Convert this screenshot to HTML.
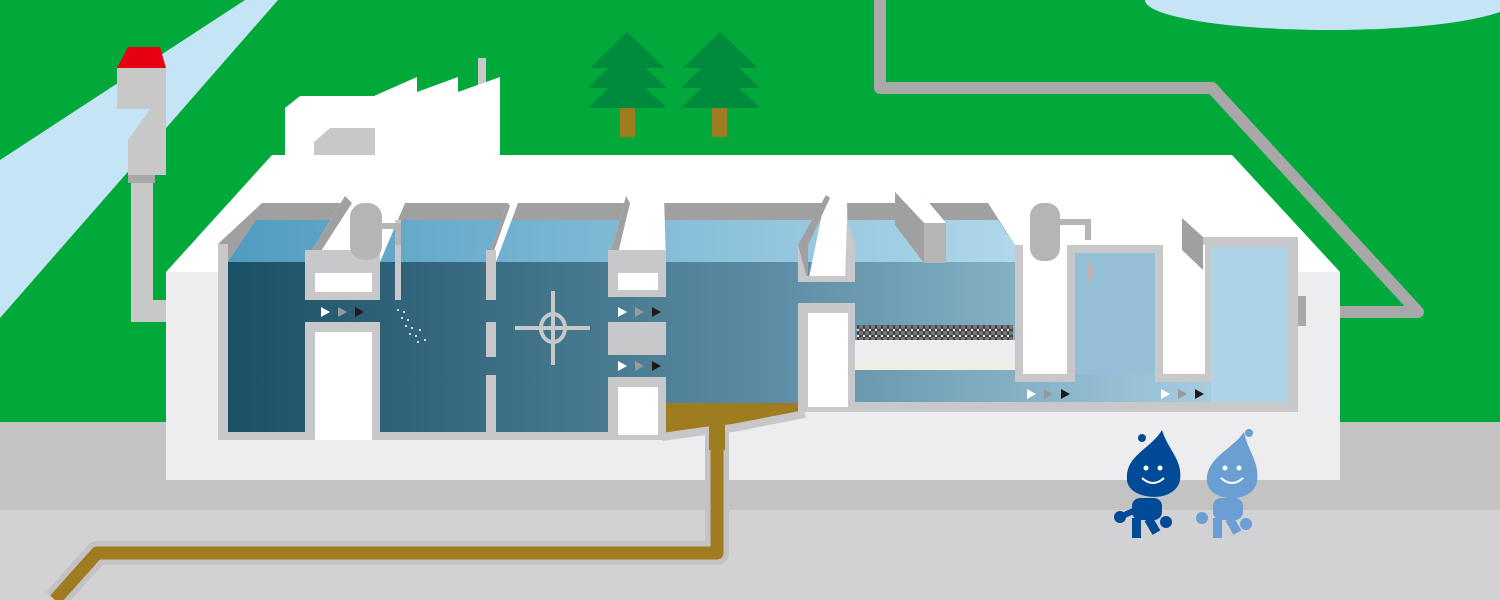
<!DOCTYPE html>
<html><head><meta charset="utf-8"><style>html,body{margin:0;padding:0;width:1500px;height:600px;overflow:hidden}</style></head><body>
<svg width="1500" height="600" viewBox="0 0 1500 600" xmlns="http://www.w3.org/2000/svg">
<defs>
<linearGradient id="wm" x1="228" x2="1288" y1="0" y2="0" gradientUnits="userSpaceOnUse">
<stop offset="0" stop-color="#1c5066"/><stop offset="0.5" stop-color="#5a8ba2"/><stop offset="1" stop-color="#b0d7ea"/></linearGradient>
<linearGradient id="ws" x1="228" x2="1015" y1="0" y2="0" gradientUnits="userSpaceOnUse">
<stop offset="0" stop-color="#4f9cc0"/><stop offset="1" stop-color="#b0d7ea"/></linearGradient>
<pattern id="balls" width="6" height="6" patternUnits="userSpaceOnUse"><rect width="6" height="6" fill="#fff"/><circle cx="3" cy="3" r="2.8" fill="#777" stroke="#222" stroke-width="0.8"/></pattern>
</defs>
<rect width="1500" height="600" fill="#00a93a"/>
<rect y="422" width="1500" height="88" fill="#c3c3c3"/>
<rect y="510" width="1500" height="90" fill="#d2d2d4"/>
<polygon points="0,160 245,0 278,0 0,318" fill="#c5e5f7"/>
<ellipse cx="1330" cy="0" rx="185" ry="30" fill="#c5e5f7"/>
<polyline points="880,0 880,88 1212,88 1418,312 1300,312" fill="none" stroke="#a8a8a8" stroke-width="12" stroke-linejoin="round"/>
<polygon points="117,68 128,47 160,47 166,68" fill="#e60012"/>
<rect x="117" y="68" width="49" height="41" fill="#c8c8c8"/>
<polygon points="128,140 150,109 166,109 166,175 128,175" fill="#c8c8c8"/>
<rect x="128" y="175" width="27" height="8" fill="#a8a8a8"/>
<polyline points="142,183 142,311 215,311" fill="none" stroke="#c8c8c8" stroke-width="22"/>
<rect x="208" y="296" width="12" height="30" fill="#a0a0a0"/>
<g fill="#008a3e"><polygon points="627,32 590,68 665,68"/><polygon points="627,50 588,88 667,88"/><polygon points="627,70 588,108 667,108"/>
<polygon points="720,32 683,68 758,68"/><polygon points="720,50 681,88 760,88"/><polygon points="720,70 681,108 760,108"/></g>
<rect x="620" y="108" width="15" height="29" fill="#a07c20"/><rect x="712" y="108" width="15" height="29" fill="#a07c20"/>
<rect x="478" y="58" width="8" height="34" fill="#c8c8c8"/>
<polygon points="285,108 300,96 375,96 375,165 285,165" fill="#fff"/>
<polygon points="374,96 417,77 417,92 458,77 458,92 500,77 500,165 374,165" fill="#fff"/>
<polygon points="314,142 330,128 375,128 375,170 314,170" fill="#c8c8ca"/>
<polygon points="166,272 272,155 1232,155 1340,272" fill="#fff"/>
<rect x="166" y="272" width="1174" height="208" fill="#ededef"/>
<rect x="1296" y="296" width="10" height="30" fill="#a8a8a8"/>
<polyline points="717,420 717,553 97,553 55,600" fill="none" stroke="#c3c3c3" stroke-width="24" stroke-linejoin="round"/>
<polyline points="717,420 717,553 97,553 55,600" fill="none" stroke="#a07c20" stroke-width="13" stroke-linejoin="round"/>
<polygon points="218,244 262,203 988,203 1015,245 1015,262 218,262" fill="#a0a0a0"/>
<polygon points="228,262 256,220 998,220 1015,245 1015,262" fill="url(#ws)"/>
<rect x="228" y="262" width="440" height="170" fill="url(#wm)"/>
<rect x="666" y="262" width="134" height="142" fill="url(#wm)"/>
<rect x="798" y="262" width="490" height="140" fill="url(#wm)"/>
<polygon points="666,403 800,403 800,412 733,424 733,430 666,436" fill="#a07c20"/>
<polygon points="305,262 380,262 408,196 345,196" fill="#fff"/>
<polygon points="305,262 314,262 352,203 345,196" fill="#a0a0a0"/>
<polygon points="486,262 496,262 518,203 508,203" fill="#fff"/>
<polygon points="486,262 490,262 510,206 508,203" fill="#a0a0a0"/>
<polygon points="608,262 666,262 664,196 626,196" fill="#fff"/>
<polygon points="608,262 616,262 630,203 626,196" fill="#a0a0a0"/>
<polygon points="808,282 848,282 847,195 826,195" fill="#fff"/>
<polygon points="798,245 808,245 808,282 798,282" fill="#c8c8ca"/>
<polygon points="808,282 808,245 830,198 826,195 798,245" fill="#a0a0a0"/>
<polygon points="845,282 855,282 855,245 847,218" fill="#c8c8ca"/>
<rect x="798" y="276" width="57" height="6" fill="#c8c8ca"/>
<g fill="#c8c8ca">
<rect x="218" y="244" width="10" height="196"/>
<rect x="218" y="432" width="95" height="8"/>
<rect x="305" y="250" width="75" height="50"/>
<rect x="305" y="322" width="75" height="118"/>
<rect x="372" y="432" width="246" height="8"/>
<rect x="395" y="220" width="6" height="80"/>
<rect x="486" y="250" width="10" height="50"/><rect x="486" y="322" width="10" height="35"/><rect x="486" y="375" width="10" height="57"/>
<rect x="608" y="250" width="58" height="47"/>
<rect x="608" y="322" width="58" height="33"/>
<rect x="608" y="377" width="58" height="63"/>
<rect x="798" y="303" width="57" height="109"/>
<rect x="848" y="402" width="450" height="10"/>
<rect x="1015" y="245" width="60" height="137"/>
<rect x="1155" y="245" width="57" height="137"/>
<rect x="1203" y="237" width="95" height="10"/>
<rect x="1288" y="237" width="10" height="175"/>
</g>
<polyline points="662,437 705,431 733,428 805,414" fill="none" stroke="#c8c8ca" stroke-width="8"/>
<rect x="709" y="418" width="16" height="32" fill="#a07c20"/>
<g fill="#fff">
<rect x="315" y="273" width="57" height="19"/>
<rect x="315" y="332" width="57" height="108"/>
<rect x="618" y="273" width="40" height="17"/>
<rect x="618" y="387" width="40" height="48"/>
<rect x="808" y="313" width="40" height="94"/>
<rect x="1023" y="245" width="44" height="129"/>
<rect x="1163" y="245" width="42" height="129"/>
</g>
<rect x="1075" y="253" width="80" height="121" fill="#95bfd6"/>
<rect x="1211" y="247" width="77" height="155" fill="#acd3e7"/>
<rect x="1075" y="245" width="80" height="8" fill="#c8c8ca"/>
<rect x="1087" y="262" width="7" height="20" fill="#b5b5b5"/>
<rect x="855" y="340" width="160" height="22" fill="#ededef"/>
<rect x="855" y="362" width="160" height="8" fill="#efeee3"/>
<rect x="857" y="325" width="156" height="15" fill="url(#balls)"/>
<rect x="350" y="203" width="32" height="57" rx="14" fill="#b5b5b5"/>
<polyline points="372,226 398,226 398,245" fill="none" stroke="#b5b5b5" stroke-width="6"/>
<polygon points="895,192 920,192 946,223 946,263 924,263 924,223" fill="#b5b5b5"/>
<polygon points="895,192 920,192 946,223 924,223" fill="#fff"/>
<polygon points="895,192 924,223 924,263 895,225" fill="#a0a0a0"/>
<rect x="1030" y="203" width="30" height="58" rx="13" fill="#b5b5b5"/>
<polyline points="1058,222 1088,222 1088,240" fill="none" stroke="#b5b5b5" stroke-width="6"/>
<polygon points="1182,218 1203,237 1203,270 1182,250" fill="#a0a0a0"/>
<g stroke="#c8c8ca" stroke-width="4" fill="none"><ellipse cx="553" cy="328" rx="12" ry="14"/><line x1="515" y1="328" x2="590" y2="328"/><line x1="553" y1="291" x2="553" y2="365"/></g>
<g fill="#fff"><circle cx="398" cy="310" r="1"/><circle cx="404" cy="312" r="1"/><circle cx="402" cy="318" r="1"/><circle cx="408" cy="320" r="1"/><circle cx="406" cy="326" r="1"/><circle cx="412" cy="328" r="1"/><circle cx="410" cy="334" r="1"/><circle cx="416" cy="336" r="1"/><circle cx="420" cy="330" r="1"/><circle cx="425" cy="340" r="1"/><circle cx="418" cy="342" r="1"/></g>
<g>
<g transform="translate(321,307)"><polygon points="0,0 9,5 0,10" fill="#fff"/><polygon points="17,0 26,5 17,10" fill="#999"/><polygon points="34,0 43,5 34,10" fill="#231815"/></g>
<g transform="translate(618,307)"><polygon points="0,0 9,5 0,10" fill="#fff"/><polygon points="17,0 26,5 17,10" fill="#999"/><polygon points="34,0 43,5 34,10" fill="#231815"/></g>
<g transform="translate(618,361)"><polygon points="0,0 9,5 0,10" fill="#fff"/><polygon points="17,0 26,5 17,10" fill="#999"/><polygon points="34,0 43,5 34,10" fill="#231815"/></g>
<g transform="translate(1027,389)"><polygon points="0,0 9,5 0,10" fill="#fff"/><polygon points="17,0 26,5 17,10" fill="#999"/><polygon points="34,0 43,5 34,10" fill="#231815"/></g>
<g transform="translate(1161,389)"><polygon points="0,0 9,5 0,10" fill="#fff"/><polygon points="17,0 26,5 17,10" fill="#999"/><polygon points="34,0 43,5 34,10" fill="#231815"/></g>
</g>
<g fill="#004a98">
<path d="M1162,430 C1150,450 1125,455 1127,480 C1128,500 1175,505 1180,480 C1183,460 1168,450 1162,430 Z"/>
<circle cx="1142" cy="438" r="4"/>
<rect x="1132" y="498" width="30" height="22" rx="8"/>
<circle cx="1120" cy="517" r="6"/><circle cx="1166" cy="522" r="6"/>
<line x1="1120" y1="517" x2="1140" y2="508" stroke="#004a98" stroke-width="6"/>
<rect x="1132" y="518" width="9" height="20"/><rect x="1148" y="518" width="9" height="16" transform="rotate(-30 1152 526)"/>
</g>
<g fill="#6b9fd4">
<path d="M1244,432 C1232,450 1205,458 1207,482 C1209,502 1252,505 1257,482 C1260,462 1248,452 1244,432 Z"/>
<circle cx="1249" cy="433" r="4"/>
<rect x="1213" y="498" width="30" height="22" rx="8"/>
<circle cx="1202" cy="518" r="6"/><circle cx="1246" cy="524" r="6"/>
<rect x="1213" y="518" width="9" height="20"/><rect x="1229" y="518" width="9" height="16" transform="rotate(-30 1233 526)"/>
</g>
<g fill="#fff"><circle cx="1146" cy="468" r="2.5"/><circle cx="1160" cy="468" r="2.5"/><circle cx="1225" cy="468" r="2.5"/><circle cx="1239" cy="468" r="2.5"/></g>
<g fill="none" stroke="#fff" stroke-width="2"><path d="M1142,478 Q1153,488 1164,478"/><path d="M1221,478 Q1232,488 1243,478"/></g>
</svg>
</body></html>
